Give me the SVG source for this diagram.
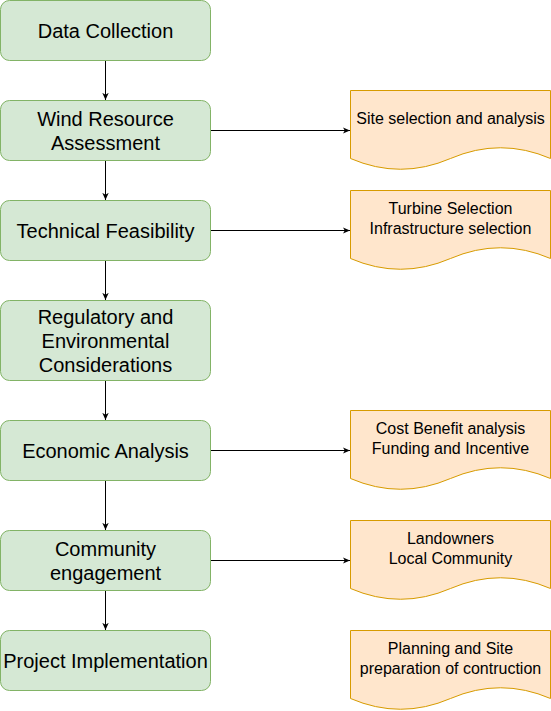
<svg xmlns="http://www.w3.org/2000/svg" width="551" height="711" viewBox="0 0 551 711">
<style>
.step{fill:#d5e8d4;stroke:#82b366;stroke-width:1}
.doc{fill:#ffe6cc;stroke:#d79b00;stroke-width:1}
.t{font-family:"Liberation Sans",Arial,sans-serif;font-size:20px;fill:#000;text-anchor:middle;dominant-baseline:central}
.d{font-family:"Liberation Sans",Arial,sans-serif;font-size:16px;fill:#000;text-anchor:middle;dominant-baseline:central}
.c{stroke:#000;stroke-width:1;fill:none;marker-end:url(#ah)}
</style>
<defs>
<marker id="ah" viewBox="0 0 10 10" refX="9" refY="5" markerWidth="8" markerHeight="8" markerUnits="userSpaceOnUse" orient="auto">
<path d="M0,1 L9,5 L0,9 L2.5,5 Z" fill="#000"/>
</marker>
</defs>
<g id="connectors">
<line class="c" x1="105.5" y1="60.5" x2="105.5" y2="100"/>
<line class="c" x1="105.5" y1="160.5" x2="105.5" y2="200"/>
<line class="c" x1="105.5" y1="260.5" x2="105.5" y2="300"/>
<line class="c" x1="105.5" y1="380.5" x2="105.5" y2="420"/>
<line class="c" x1="105.5" y1="480.5" x2="105.5" y2="530"/>
<line class="c" x1="105.5" y1="590.5" x2="105.5" y2="630"/>
<line class="c" x1="210.5" y1="130.5" x2="350" y2="130.5"/>
<line class="c" x1="210.5" y1="230.5" x2="350" y2="230.5"/>
<line class="c" x1="210.5" y1="450.5" x2="350" y2="450.5"/>
<line class="c" x1="210.5" y1="560.5" x2="350" y2="560.5"/>
</g>
<g id="data-collection"><rect class="step" x="0.5" y="0.5" width="210" height="60" rx="9"/><text class="t" x="105.5" y="30.5">Data Collection</text></g>
<g id="wind-resource"><rect class="step" x="0.5" y="100.5" width="210" height="60" rx="9"/><text class="t" x="105.5" y="118.5">Wind Resource</text><text class="t" x="105.5" y="142.5">Assessment</text></g>
<g id="technical"><rect class="step" x="0.5" y="200.5" width="210" height="60" rx="9"/><text class="t" x="105.5" y="230.5">Technical Feasibility</text></g>
<g id="regulatory"><rect class="step" x="0.5" y="300.5" width="210" height="80" rx="9"/><text class="t" x="105.5" y="316.5">Regulatory and</text><text class="t" x="105.5" y="340.5">Environmental</text><text class="t" x="105.5" y="364.5">Considerations</text></g>
<g id="economic"><rect class="step" x="0.5" y="420.5" width="210" height="60" rx="9"/><text class="t" x="105.5" y="450.5">Economic Analysis</text></g>
<g id="community"><rect class="step" x="0.5" y="530.5" width="210" height="60" rx="9"/><text class="t" x="105.5" y="548.5">Community</text><text class="t" x="105.5" y="572.5">engagement</text></g>
<g id="implementation"><rect class="step" x="0.5" y="630.5" width="210" height="60" rx="9"/><text class="t" x="105.5" y="660.5">Project Implementation</text></g>
<g id="doc-site"><path class="doc" d="M350.5,90.5 H550.5 V158.5 Q500.5,137 450.5,158.5 Q400.5,180 350.5,158.5 Z"/><text class="d" x="450.5" y="118.5">Site selection and analysis</text></g>
<g id="doc-turbine"><path class="doc" d="M350.5,190.5 H550.5 V258.5 Q500.5,237 450.5,258.5 Q400.5,280 350.5,258.5 Z"/><text class="d" x="450.5" y="208.5">Turbine Selection</text><text class="d" x="450.5" y="228.5">Infrastructure selection</text></g>
<g id="doc-cost"><path class="doc" d="M350.5,410.5 H550.5 V478.5 Q500.5,457 450.5,478.5 Q400.5,500 350.5,478.5 Z"/><text class="d" x="450.5" y="428.5">Cost Benefit analysis</text><text class="d" x="450.5" y="448.5">Funding and Incentive</text></g>
<g id="doc-land"><path class="doc" d="M350.5,520.5 H550.5 V588.5 Q500.5,567 450.5,588.5 Q400.5,610 350.5,588.5 Z"/><text class="d" x="450.5" y="538.5">Landowners</text><text class="d" x="450.5" y="558.5">Local Community</text></g>
<g id="doc-planning"><path class="doc" d="M350.5,630.5 H550.5 V698.5 Q500.5,677 450.5,698.5 Q400.5,720 350.5,698.5 Z"/><text class="d" x="450.5" y="648.5">Planning and Site</text><text class="d" x="450.5" y="668.5">preparation of contruction</text></g>
</svg>
